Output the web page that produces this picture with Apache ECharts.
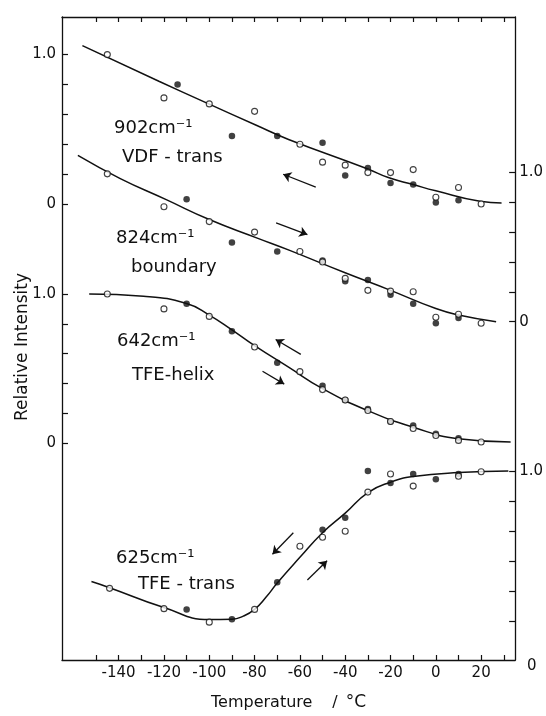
<!DOCTYPE html>
<html>
<head>
<meta charset="utf-8">
<script src="https://cdn.jsdelivr.net/npm/echarts@6/dist/echarts.min.js"></script>
<style>
  html, body { margin: 0; padding: 0; background: #fff; }
  #chart { width: 546px; height: 716px; }
</style>
</head>
<body>
<div id="chart"></div>
<script>
// axis ticks / labels
var tempTicks = [-150, -140, -130, -120, -110, -100, -90, -80, -70, -60, -50, -40, -30, -20, -10, 0, 10, 20, 30];
var tempLabels = [-140, -120, -100, -80, -60, -40, -20, 0, 20];
var intensityTicks = [0, 0.2, 0.4, 0.6, 0.8, 1.0];
var intensityLabels = [0, 1];

// 902 cm-1  VDF-trans   [temperature, relative intensity]
var curve902 = [[-156, 1.06], [-122, 0.82], [-101, 0.675], [-79, 0.525], [-65, 0.432], [-30, 0.234], [-21, 0.177], [-10, 0.13], [0, 0.088], [19.5, 0.018], [29, 0.007]];
var open902 = [[-145, 1.0], [-120, 0.71], [-100, 0.67], [-80, 0.62], [-60, 0.40], [-50, 0.28], [-40, 0.26], [-30, 0.21], [-20, 0.21], [-10, 0.23], [0, 0.045], [10, 0.11], [20, 0.0]];
var filled902 = [[-114, 0.80], [-90, 0.455], [-70, 0.455], [-50, 0.41], [-40, 0.19], [-30, 0.24], [-20, 0.14], [-10, 0.13], [0, 0.01], [10, 0.025]];

// 824 cm-1  boundary
var curve824 = [[-158, 1.113], [-139.5, 0.96], [-119, 0.817], [-100, 0.684], [-79.4, 0.563], [-64.8, 0.479], [-40.6, 0.331], [-20.8, 0.215], [0, 0.088], [10, 0.045], [26.6, 0.0]];
var open824 = [[-145, 0.99], [-120, 0.77], [-100, 0.67], [-80, 0.60], [-60, 0.47], [-50, 0.40], [-40, 0.29], [-30, 0.21], [-20, 0.205], [-10, 0.20], [0, 0.03], [10, 0.05], [20, -0.01]];
var filled824 = [[-110, 0.82], [-90, 0.53], [-70, 0.47], [-50, 0.41], [-40, 0.27], [-30, 0.28], [-20, 0.18], [-10, 0.12], [0, -0.01], [10, 0.025]];

// 642 cm-1  TFE-helix
var curve642 = [[-153, 1.0], [-129, 0.985], [-110, 0.936], [-100, 0.859], [-90, 0.76], [-80, 0.654], [-65, 0.51], [-50, 0.366], [-30, 0.219], [-10, 0.108], [10, 0.031], [33, 0.009]];
var open642 = [[-145, 1.0], [-120, 0.90], [-100, 0.85], [-80, 0.645], [-60, 0.48], [-50, 0.36], [-40, 0.29], [-30, 0.22], [-20, 0.146], [-10, 0.10], [0, 0.053], [10, 0.02], [20, 0.009]];
var filled642 = [[-110, 0.935], [-90, 0.75], [-70, 0.54], [-50, 0.385], [-40, 0.29], [-30, 0.23], [-20, 0.146], [-10, 0.12], [0, 0.065], [10, 0.035]];

// 625 cm-1  TFE-trans
var curve625 = [[-152, 0.265], [-144, 0.224], [-120, 0.092], [-100, 0.013], [-90, 0.015], [-85, 0.035], [-80, 0.08], [-75, 0.16], [-70, 0.255], [-60, 0.426], [-50, 0.59], [-40, 0.72], [-30, 0.857], [-20, 0.926], [-10, 0.963], [10, 0.99], [32, 1.0]];
var open625 = [[-144, 0.22], [-120, 0.085], [-100, -0.005], [-80, 0.08], [-60, 0.50], [-50, 0.56], [-40, 0.60], [-30, 0.86], [-20, 0.98], [-10, 0.90], [10, 0.965], [20, 0.995]];
var filled625 = [[-110, 0.08], [-90, 0.015], [-70, 0.26], [-50, 0.61], [-40, 0.69], [-30, 1.0], [-20, 0.92], [-10, 0.98], [0, 0.945], [10, 0.98]];

// heating / cooling arrows [tail, head]
var arrow902 = [[-53, 0.113], [-67.4, 0.199]];
var arrow824 = [[-70.5, 0.662], [-56.7, 0.583]];
var arrow642up = [[-59.6, 0.596], [-70.7, 0.695]];
var arrow642down = [[-76.5, 0.483], [-66.9, 0.397]];
var arrow625down = [[-62.9, 0.59], [-72.1, 0.447]];
var arrow625up = [[-56.7, 0.276], [-48.0, 0.403]];

var ink = '#111';
var font = 'DejaVu Sans';

var chart = echarts.init(document.getElementById('chart'));

function yAxisFor(min, max, pos, labels, showLine) {
    return {
        type: 'value', position: pos, min: min, max: max,
        axisLine: { show: showLine, onZero: false, lineStyle: { color: ink, width: 1.3 } },
        axisTick: { show: true, inside: true, length: 6, customValues: intensityTicks, lineStyle: { color: ink, width: 1.2 } },
        axisLabel: {
            customValues: labels, margin: pos === 'left' ? 6 : 4,
            color: ink, fontSize: 15, fontFamily: font,
            formatter: function (v) { return v === 0 ? '0' : v.toFixed(1); }
        },
        splitLine: { show: false }
    };
}

function arrowLine(pts) {
    return {
        silent: true, symbol: ['none', 'arrow'], symbolSize: 8,
        label: { show: false },
        lineStyle: { color: ink, width: 1.3, type: 'solid' },
        itemStyle: { color: ink },
        emphasis: { disabled: true },
        data: [[{ coord: pts[0] }, { coord: pts[1] }]]
    };
}

function panel(idx, curve, open, filled, arrows) {
    var out = [{
        type: 'line', yAxisIndex: idx, data: curve, showSymbol: false,
        smooth: 0.5,
        lineStyle: { color: ink, width: 1.5 }, z: 2
    }, {
        type: 'scatter', yAxisIndex: idx, data: filled, symbolSize: 6.5,
        itemStyle: { color: ink }, z: 3
    }, {
        type: 'scatter', yAxisIndex: idx, data: open, symbolSize: 6,
        itemStyle: { color: '#fff', borderColor: ink, borderWidth: 1.1 }, z: 4
    }];
    arrows.forEach(function (a) {
        out.push({ type: 'line', yAxisIndex: idx, data: [], markLine: arrowLine(a) });
    });
    return out;
}

function label(x, y, text) {
    return { type: 'text', x: x, y: y, style: { text: text, fill: ink, fontSize: 18, fontFamily: font, verticalAlign: 'middle' } };
}

chart.setOption({
    animation: false,
    backgroundColor: '#fff',
    grid: { left: 62, right: 29, top: 17, bottom: 49 },
    xAxis: [{
        type: 'value', min: -165, max: 35, position: 'bottom',
        axisLine: { onZero: false, lineStyle: { color: ink, width: 1.3 } },
        axisTick: { inside: true, length: 5, customValues: tempTicks, lineStyle: { color: ink, width: 1.2 } },
        axisLabel: { customValues: tempLabels, margin: 6, color: ink, fontSize: 15, fontFamily: font },
        splitLine: { show: false },
        name: '{t|Temperature}{s|/}{c|°C}', nameLocation: 'middle', nameGap: 34,
        nameTextStyle: {
            color: ink, fontSize: 16, fontFamily: font,
            rich: {
                t: { fontSize: 16, fontFamily: font, color: ink },
                s: { fontSize: 16, fontFamily: font, color: ink, padding: [0, 0, 0, 20] },
                c: { fontSize: 17, fontFamily: font, color: ink, padding: [0, 0, 0, 8] }
            }
        }
    }, {
        type: 'value', min: -165, max: 35, position: 'top',
        axisLine: { onZero: false, lineStyle: { color: ink, width: 1.3 } },
        axisTick: { inside: true, length: 5, customValues: tempTicks, lineStyle: { color: ink, width: 1.2 } },
        axisLabel: { show: false },
        splitLine: { show: false }
    }],
    yAxis: [
        yAxisFor(-3.053, 1.2517, 'left', intensityLabels, true),
        yAxisFor(-2.265, 2.040, 'right', intensityLabels, true),
        yAxisFor(-1.450, 2.854, 'left', intensityLabels, false),
        yAxisFor(-0.2566, 4.0197, 'right', [1], false)
    ],
    series: [].concat(
        panel(0, curve902, open902, filled902, [arrow902]),
        panel(1, curve824, open824, filled824, [arrow824]),
        panel(2, curve642, open642, filled642, [arrow642up, arrow642down]),
        panel(3, curve625, open625, filled625, [arrow625down, arrow625up])
    ),
    graphic: [
        label(114, 128, '902cm⁻¹'),
        label(122, 157, 'VDF - trans'),
        label(116, 238, '824cm⁻¹'),
        label(131, 267, 'boundary'),
        label(117, 341.5, '642cm⁻¹'),
        label(132, 375.5, 'TFE-helix'),
        label(116, 558, '625cm⁻¹'),
        label(138, 584, 'TFE - trans'),
        { type: 'text', x: 527, y: 666, style: { text: '0', fill: ink, fontSize: 15, fontFamily: font, verticalAlign: 'middle' } },
        {
            type: 'text', x: 23, y: 347, rotation: Math.PI / 2,
            style: { text: 'Relative Intensity', fill: ink, fontSize: 17, fontFamily: font, align: 'center', verticalAlign: 'middle' }
        }
    ]
});
</script>
</body>
</html>
